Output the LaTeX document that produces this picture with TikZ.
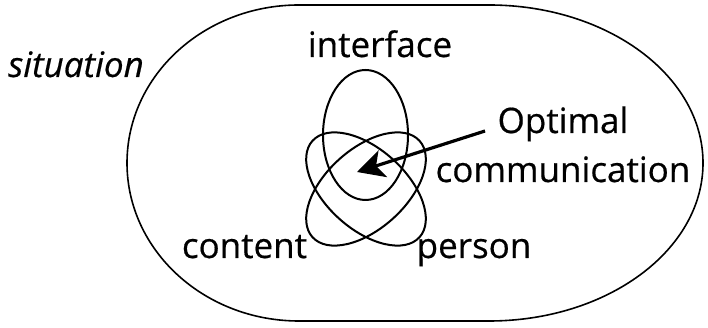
\documentclass[tikz,border=0pt]{standalone}
\usepackage{fontspec}
\setmainfont[FakeBold=0.5]{Open Sans}
\usetikzlibrary{shapes.geometric,arrows.meta,positioning}

\begin{document}
\begin{tikzpicture}[
    x=1pt, y=1pt,
    outer/.style={draw, line width=1.6pt},
    set/.style={ellipse, draw, line width=2pt, inner sep=0pt},
    word/.style={font=\fontsize{35}{49}\selectfont, inner sep=0pt},
    pointer/.style={-{Stealth[length=27pt, width=28pt, inset=7pt]}, line width=3.2pt}
]
    \useasboundingbox (0,0) rectangle (708,328);

    \draw[outer] (299,323) -- (489,323)
        arc[start angle=90, end angle=-90, x radius=214, y radius=158]
        -- (299,7)
        arc[start angle=270, end angle=90, x radius=172, y radius=158] -- cycle;

    \node[set, minimum width=85, minimum height=130] (interface) at (365.5,193) {};
    \node[set, minimum width=144, minimum height=80, rotate=42] (content) at (366,139) {};
    \node[set, minimum width=144, minimum height=80, rotate=-42] (person) at (366,139) {};

    \node[word, anchor=base, font=\fontsize{35}{49}\selectfont\itshape] (situationlbl) at (76,251) {situation};
    \node[word, anchor=base] (interfacelbl) at (380,271) {interface};
    \node[word, anchor=base] (contentlbl) at (244.5,70) {content};
    \node[word, anchor=base] (personlbl) at (474,70) {person};
    \node[word, align=center, anchor=base] (optimal) at (563,146) {Optimal\\communication};

    \coordinate (tail) at (485,197);
    \coordinate (centre) at (357,156);
    \draw[pointer] (tail) -- (centre);
\end{tikzpicture}
\end{document}
